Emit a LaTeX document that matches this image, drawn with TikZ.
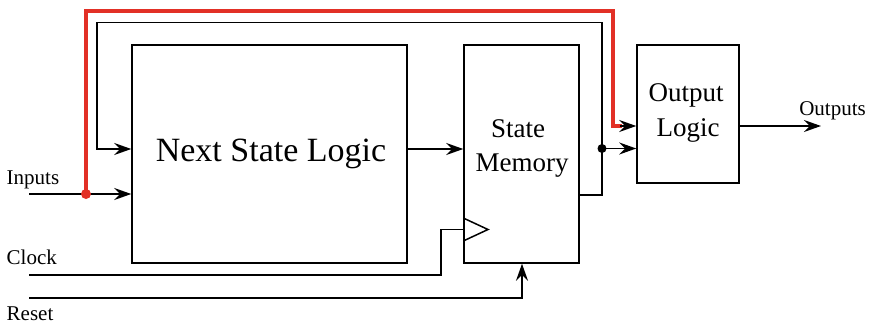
\documentclass[tikz,border=0pt]{standalone}
\usepackage{fontspec}
\setmainfont{Liberation Serif}
\usetikzlibrary{arrows.meta}
\definecolor{wirered}{RGB}{226,48,38}
\begin{document}
\begin{tikzpicture}[x=1pt,y=-1pt,
  box/.style={draw,line width=1.5pt,rectangle,inner sep=0pt},
  wire/.style={line width=1.5pt,line join=miter},
  arr/.style={-{Stealth[length=17pt,width=12pt,inset=6pt]}},
  redwire/.style={line width=3.6pt,draw=wirered,line join=miter},
  side/.style={font=\fontsize{21}{24}\selectfont,inner sep=0pt},
  boxtxt/.style={font=\fontsize{27}{34}\selectfont,inner sep=0pt},
  bigtxt/.style={font=\fontsize{34}{40}\selectfont,inner sep=0pt}]
\useasboundingbox (0,0) rectangle (873,324);
% blocks
\node[box,minimum width=275pt,minimum height=218pt] (nsl) at (269.5,154) {};
\node[box,minimum width=115pt,minimum height=218pt] (sm) at (521.5,154) {};
\node[box,minimum width=102pt,minimum height=138pt] (ol) at (688,114) {};
% texts
\node[bigtxt,anchor=base] (tnsl) at (271,161) {Next State Logic};
\node[boxtxt,anchor=base] (tsm1) at (518,137.5) {State};
\node[boxtxt,anchor=base] (tsm2) at (522,171.5) {Memory};
\node[boxtxt,anchor=base] (tol1) at (686,101.5) {Output};
\node[boxtxt,anchor=base] (tol2) at (688,136.5) {Logic};
\node[side,anchor=base west] (tin) at (6.5,184) {Inputs};
\node[side,anchor=base west] (tclk) at (6.5,264) {Clock};
\node[side,anchor=base west] (trst) at (6.5,320) {Reset};
\node[side,anchor=base] (tout) at (832.5,115) {Outputs};
% coordinates
\coordinate (inL) at (29,194);
\coordinate (rdot) at (86,194);
\coordinate (clkL) at (29,275);
\coordinate (rstL) at (29,298);
\coordinate (smout) at (579,195);
\coordinate (fbx) at (602,195);
\coordinate (bdot) at (602,148.5);
\coordinate (outE) at (821,126);
% inputs
\draw[wire,arr] (inL) -- (nsl.west |- inL);
% next state -> state memory
\draw[wire,arr] (nsl.east |- 0,149) -- (sm.west |- 0,149);
% feedback
\draw[wire,arr] (smout) -- (fbx) -- (602,22.5) -- (97,22.5) -- (97,149) -- (nsl.west |- 0,149);
\draw[wire,arr] (bdot) -- (ol.west |- bdot);
\fill (bdot) circle (4.5pt);
% red path
\draw[redwire] (rdot) -- (86,11) -- (613,11) -- (613,126) -- (622,126);
\draw[wire,arr] (620,126) -- (ol.west |- 0,126);
\fill[wirered] (rdot) circle (5pt);
% clock
\draw[wire] (clkL) -- (441,275) -- (441,229.5) -- (sm.west |- 0,229.5);
\draw[wire,line join=miter] (sm.west |- 0,218) -- (488,229.5) -- (sm.west |- 0,241);
% reset
\draw[wire,arr] (rstL) -- (522,298) -- (sm.south -| 522,0);
% outputs
\draw[wire,arr] (ol.east |- outE) -- (outE);
\end{tikzpicture}
\end{document}
